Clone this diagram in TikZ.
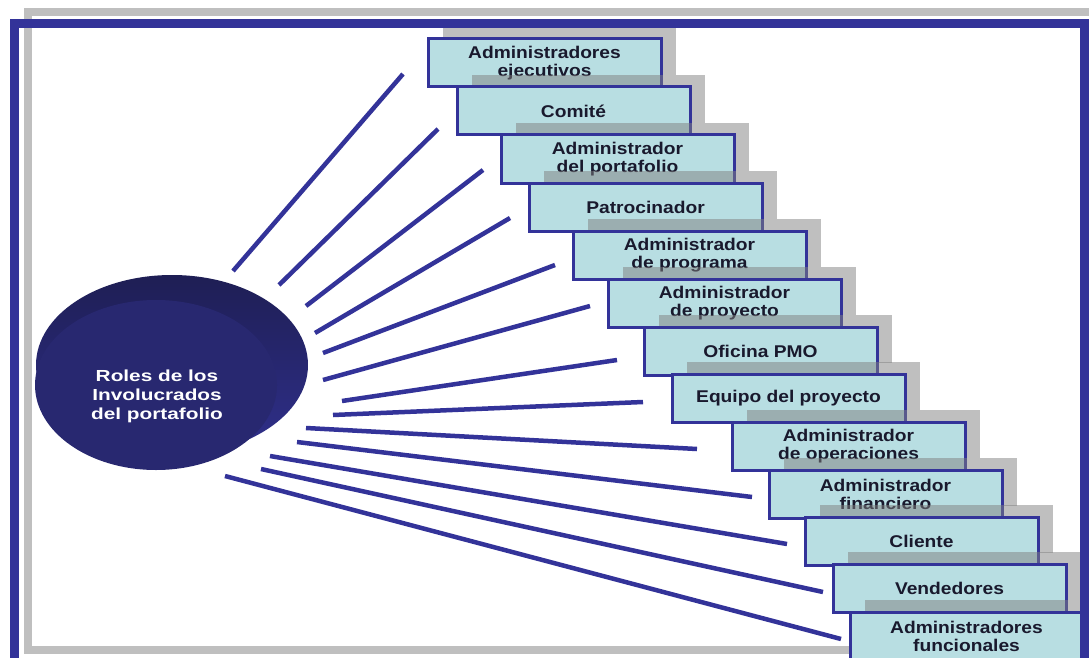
\documentclass[tikz,border=0pt]{standalone}
\usepackage{fontspec}
\usetikzlibrary{shapes.geometric}
\newfontfamily\boxf{Liberation Sans}[FakeStretch=1.13]
\newfontfamily\circf{Liberation Sans}[FakeStretch=1.3]
\definecolor{bordc}{RGB}{51,51,153}
\definecolor{boxc}{RGB}{184,222,226}
\definecolor{txtc}{RGB}{25,25,45}
\definecolor{framegray}{RGB}{191,191,191}
\definecolor{hubfront}{RGB}{40,40,112}
\definecolor{hubtop}{RGB}{30,30,84}
\definecolor{hubbot}{RGB}{48,48,140}
\tikzset{
  rolebox/.style={draw=bordc, line width=3pt, fill=boxc, minimum width=233pt,
    minimum height=48pt, inner sep=0pt, align=center, text=txtc,
    font=\boxf\bfseries\fontsize{17}{18}\selectfont},
  boxshadow/.style={fill=black!50, fill opacity=0.5},
  spoke/.style={draw=bordc, line width=4.5pt},
  hubtxt/.style={text=white, align=center, font=\circf\bfseries\fontsize{16}{19}\selectfont}
}
\newcommand\rb[4]{%
  \fill[boxshadow] (#2+15,#3-12) rectangle (#2+248,#3+36);
  \node[rolebox] (#1) at (#2+116.5,#3+24) {#4};
}
\begin{document}
\begin{tikzpicture}[x=1pt,y=-1pt]
\useasboundingbox (0,0) rectangle (1089,658);
\clip (0,0) rectangle (1089,658);
\fill[white] (0,0) rectangle (1089,658);
% gray frame
\draw[framegray, line width=8.5pt] (28,12) rectangle (1120,650);
% hub
\shade[top color=hubtop, bottom color=hubbot] (172,365) ellipse [x radius=136, y radius=90];
\node[ellipse, fill=hubfront, minimum width=242pt, minimum height=170pt, inner sep=0pt] (hub) at (156,385) {};
\node[hubtxt] (hubtext) at (157,396) {Roles de los\\Involucrados\\del portafolio};
% boxes
\rb{b1}{428}{39}{Administradores\\ejecutivos}
\rb{b2}{457}{87}{Comité}
\rb{b3}{501}{135}{Administrador\\del portafolio}
\rb{b4}{529}{183}{Patrocinador}
\rb{b5}{573}{231}{Administrador\\de programa}
\rb{b6}{608}{279}{Administrador\\de proyecto}
\rb{b7}{644}{327}{Oficina PMO}
\rb{b8}{672}{374}{Equipo del proyecto}
\rb{b9}{732}{422}{Administrador\\de operaciones}
\rb{b10}{769}{470}{Administrador\\financiero}
\rb{b11}{805}{517}{Cliente}
\rb{b12}{833}{564}{Vendedores}
\rb{b13}{850}{612}{Administradores\\funcionales}
% spoke endpoints
\coordinate (s1a) at (233,271); \coordinate (s1b) at (403,74);
\coordinate (s2a) at (279,285); \coordinate (s2b) at (438,129);
\coordinate (s3a) at (306,306); \coordinate (s3b) at (483,170);
\coordinate (s4a) at (315,333); \coordinate (s4b) at (510,218);
\coordinate (s5a) at (323,353); \coordinate (s5b) at (555,265);
\coordinate (s6a) at (323,380); \coordinate (s6b) at (590,306);
\coordinate (s7a) at (342,401); \coordinate (s7b) at (617,360);
\coordinate (s8a) at (333,415); \coordinate (s8b) at (643,402);
\coordinate (s9a) at (306,428); \coordinate (s9b) at (697,449);
\coordinate (s10a) at (297,442); \coordinate (s10b) at (752,497);
\coordinate (s11a) at (270,456); \coordinate (s11b) at (787,544);
\coordinate (s12a) at (261,469); \coordinate (s12b) at (823,592);
\coordinate (s13a) at (225,476); \coordinate (s13b) at (841,639);
\foreach \i in {1,...,13} { \draw[spoke] (s\i a) -- (s\i b); }
% blue frame
\draw[bordc, line width=9pt] (14,24) rectangle (1084,720);
\end{tikzpicture}
\end{document}
